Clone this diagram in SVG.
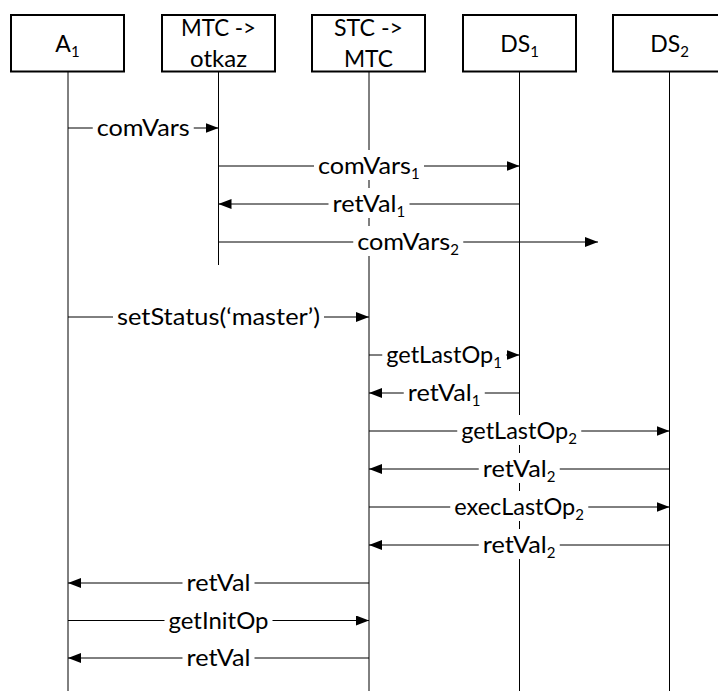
<svg xmlns="http://www.w3.org/2000/svg" width="718" height="691" viewBox="0 0 718 691">
<style>
.box{fill:#fff;stroke:#000;stroke-width:2}
.life{stroke:#000;stroke-width:1;fill:none}
.msg{stroke:#000;stroke-width:1;fill:none;marker-end:url(#ah)}
.bg{fill:#fff;stroke:none}
text{font-family:Lato,"Open Sans",sans-serif;font-size:23px;fill:#000}
.bt{text-anchor:middle}
.sub{font-size:15px}
</style>
<defs>
<marker id="ah" markerWidth="13" markerHeight="10" refX="13" refY="5" orient="auto" markerUnits="userSpaceOnUse">
<path d="M0,0 L13,5 L0,10 z" fill="#000"/>
</marker>
</defs>
<rect width="718" height="691" fill="#fff"/>
<g id="A1">
<line class="life" x1="68" y1="71" x2="68" y2="691"/>
<rect class="box" x="11" y="15" width="113" height="56.5"/>
<text class="bt" x="67.5" y="52">A<tspan class="sub" dy="5">1</tspan></text>
</g>
<g id="MTC">
<line class="life" x1="218.5" y1="71" x2="218.5" y2="265"/>
<rect class="box" x="162" y="15" width="113" height="56.5"/>
<text class="bt" x="218.5" y="36" textLength="75" lengthAdjust="spacingAndGlyphs">MTC -&gt;</text>
<text class="bt" x="218.5" y="67" textLength="57" lengthAdjust="spacingAndGlyphs">otkaz</text>
</g>
<g id="STC">
<line class="life" x1="369" y1="71" x2="369" y2="691"/>
<rect class="box" x="312" y="15" width="113" height="56.5"/>
<text class="bt" x="368.5" y="36" textLength="69" lengthAdjust="spacingAndGlyphs">STC -&gt;</text>
<text class="bt" x="368.5" y="67" textLength="49" lengthAdjust="spacingAndGlyphs">MTC</text>
</g>
<g id="DS1">
<line class="life" x1="519.5" y1="71" x2="519.5" y2="691"/>
<rect class="box" x="463" y="15" width="113" height="56.5"/>
<text class="bt" x="519.5" y="52">DS<tspan class="sub" dy="5">1</tspan></text>
</g>
<g id="DS2">
<line class="life" x1="669.5" y1="71" x2="669.5" y2="691"/>
<rect class="box" x="613" y="15" width="113" height="56.5"/>
<text class="bt" x="669.5" y="52">DS<tspan class="sub" dy="5">2</tspan></text>
</g>
<g id="connectors">
<line class="msg" x1="68" y1="128" x2="218.5" y2="128"/>
<rect class="bg" x="92.75" y="112" width="101" height="30"/>
<text x="96.75" y="136" textLength="93" lengthAdjust="spacingAndGlyphs">comVars</text>

<line class="msg" x1="218.5" y1="166" x2="519.5" y2="166"/>
<rect class="bg" x="314" y="150" width="110" height="30"/>
<text x="318" y="174"><tspan textLength="93" lengthAdjust="spacingAndGlyphs">comVars</tspan><tspan class="sub" x="411" dy="5">1</tspan></text>

<line class="msg" x1="519.5" y1="204" x2="218.5" y2="204"/>
<rect class="bg" x="328.5" y="188" width="81" height="30"/>
<text x="332.5" y="212"><tspan textLength="64" lengthAdjust="spacingAndGlyphs">retVal</tspan><tspan class="sub" x="396.5" dy="5">1</tspan></text>

<line class="msg" x1="218.5" y1="242" x2="598" y2="242"/>
<rect class="bg" x="353.25" y="226" width="110" height="30"/>
<text x="357.25" y="250"><tspan textLength="93" lengthAdjust="spacingAndGlyphs">comVars</tspan><tspan class="sub" x="450.25" dy="5">2</tspan></text>

<line class="msg" x1="68" y1="317" x2="369" y2="317"/>
<rect class="bg" x="113" y="301" width="211" height="30"/>
<text x="117" y="325" textLength="203" lengthAdjust="spacingAndGlyphs">setStatus(‘master’)</text>

<line class="msg" x1="369" y1="355" x2="519.5" y2="355"/>
<rect class="bg" x="382.25" y="339" width="124" height="30"/>
<text x="386.25" y="363"><tspan textLength="107" lengthAdjust="spacingAndGlyphs">getLastOp</tspan><tspan class="sub" x="493.25" dy="5">1</tspan></text>

<line class="msg" x1="519.5" y1="393" x2="369" y2="393"/>
<rect class="bg" x="403.75" y="377" width="81" height="30"/>
<text x="407.75" y="401"><tspan textLength="64" lengthAdjust="spacingAndGlyphs">retVal</tspan><tspan class="sub" x="471.75" dy="5">1</tspan></text>

<line class="msg" x1="369" y1="431" x2="669.5" y2="431"/>
<rect class="bg" x="457.25" y="415" width="124" height="30"/>
<text x="461.25" y="439"><tspan textLength="107" lengthAdjust="spacingAndGlyphs">getLastOp</tspan><tspan class="sub" x="568.25" dy="5">2</tspan></text>

<line class="msg" x1="669.5" y1="469" x2="369" y2="469"/>
<rect class="bg" x="478.75" y="453" width="81" height="30"/>
<text x="482.75" y="477"><tspan textLength="64" lengthAdjust="spacingAndGlyphs">retVal</tspan><tspan class="sub" x="546.75" dy="5">2</tspan></text>

<line class="msg" x1="369" y1="507" x2="669.5" y2="507"/>
<rect class="bg" x="450.25" y="491" width="138" height="30"/>
<text x="454.25" y="515"><tspan textLength="121" lengthAdjust="spacingAndGlyphs">execLastOp</tspan><tspan class="sub" x="575.25" dy="5">2</tspan></text>

<line class="msg" x1="669.5" y1="545" x2="369" y2="545"/>
<rect class="bg" x="478.75" y="529" width="81" height="30"/>
<text x="482.75" y="553"><tspan textLength="64" lengthAdjust="spacingAndGlyphs">retVal</tspan><tspan class="sub" x="546.75" dy="5">2</tspan></text>

<line class="msg" x1="369" y1="583" x2="68" y2="583"/>
<rect class="bg" x="182.5" y="567" width="72" height="30"/>
<text x="186.5" y="591" textLength="64" lengthAdjust="spacingAndGlyphs">retVal</text>

<line class="msg" x1="68" y1="620.5" x2="369" y2="620.5"/>
<rect class="bg" x="164.5" y="604.5" width="108" height="30"/>
<text x="168.5" y="628.5" textLength="100" lengthAdjust="spacingAndGlyphs">getInitOp</text>

<line class="msg" x1="369" y1="658" x2="68" y2="658"/>
<rect class="bg" x="182.5" y="642" width="72" height="30"/>
<text x="186.5" y="666" textLength="64" lengthAdjust="spacingAndGlyphs">retVal</text>
</g>
</svg>
